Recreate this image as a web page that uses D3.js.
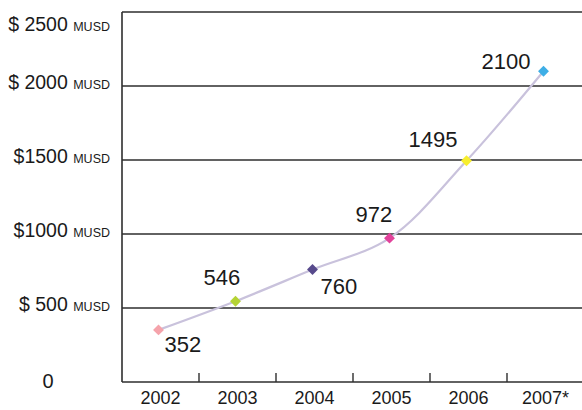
<!DOCTYPE html>
<html>
<head>
<meta charset="utf-8">
<script src="https://cdn.jsdelivr.net/npm/d3@7"></script>
<style>
  html, body { margin: 0; padding: 0; background: #fff; }
  svg { display: block; font-family: "Liberation Sans", Arial, sans-serif; }
</style>
</head>
<body>
<svg id="chart" width="582" height="410"></svg>
<script>
// Annual revenue, million USD (2007 is an estimate)
const years = ["2002", "2003", "2004", "2005", "2006", "2007*"];
const values = [352, 546, 760, 972, 1495, 2100];
const pointColors = ["#f5a3ab", "#b5d334", "#574a8c", "#e2429b", "#f7ee2e", "#3eaee6"];
const yTicks = [0, 500, 1000, 1500, 2000, 2500];
const yTickLabels = ["0", "$ 500", "$1000", "$1500", "$ 2000", "$ 2500"];
// label placement relative to each point: [dx, dy, anchor]
const labelPlacement = [
  [6, 22, "start"], [-32, -16, "start"], [8, 24, "start"],
  [-34, -16, "start"], [-58, -14, "start"], [-62, -2, "start"]
];

const svg = d3.select("#chart");
const W = 582, H = 410;
const plotLeft = 122, plotTop = 12, plotBottom = 382, plotRight = 584;

const x = d3.scaleBand().domain(years).range([plotLeft, plotRight]).padding(0);
const y = d3.scaleLinear().domain([0, 2500]).range([plotBottom, plotTop]);

// horizontal gridlines (and top frame line)
svg.append("g").selectAll("line")
  .data(yTicks.filter(d => d > 0))
  .join("line")
  .attr("x1", plotLeft).attr("x2", W)
  .attr("y1", d => y(d)).attr("y2", d => y(d))
  .attr("stroke", "#2e2e2e").attr("stroke-width", 1.6);

// x axis baseline
svg.append("line")
  .attr("x1", plotLeft).attr("x2", W).attr("y1", plotBottom).attr("y2", plotBottom)
  .attr("stroke", "#2e2e2e").attr("stroke-width", 1.6);
// ticks between categories
svg.append("g").selectAll("line")
  .data(years.slice(1))
  .join("line")
  .attr("x1", d => x(d)).attr("x2", d => x(d))
  .attr("y1", plotBottom).attr("y2", plotBottom - 9)
  .attr("stroke", "#2e2e2e").attr("stroke-width", 1.4);

// y axis line
svg.append("line")
  .attr("x1", plotLeft).attr("x2", plotLeft).attr("y1", plotTop).attr("y2", plotBottom)
  .attr("stroke", "#2e2e2e").attr("stroke-width", 1.6);

// x tick labels
svg.append("g").selectAll("text")
  .data(years)
  .join("text")
  .attr("x", d => x(d) + x.bandwidth() / 2)
  .attr("y", plotBottom + 22)
  .attr("text-anchor", "middle")
  .attr("font-size", 18)
  .attr("fill", "#1a1a1a")
  .text(d => d);

// y tick labels: "$ value" + small "MUSD"
const yl = svg.append("g");
yTicks.forEach((t, i) => {
  const yy = Math.max(y(t) + 3, 31);
  if (t === 0) {
    yl.append("text").attr("x", 48).attr("y", y(t) + 6)
      .attr("text-anchor", "middle").attr("font-size", 20).attr("fill", "#1a1a1a")
      .text(yTickLabels[i]);
    return;
  }
  const txt = yl.append("text").attr("x", 110).attr("y", yy)
    .attr("text-anchor", "end").attr("fill", "#1a1a1a");
  txt.append("tspan").attr("font-size", 19.5).text(yTickLabels[i] + " ");
  txt.append("tspan").attr("font-size", 12.5).text("MUSD");
});

// connecting line
const cx = (d, i) => x(years[i]) + x.bandwidth() / 2 - 2;
const line = d3.line()
  .x((d, i) => cx(d, i))
  .y(d => y(d))
  .curve(d3.curveCatmullRom.alpha(0.5));
svg.append("path")
  .datum(values)
  .attr("d", line)
  .attr("fill", "none")
  .attr("stroke", "#c9c2dc")
  .attr("stroke-width", 2.2);

// diamond markers
svg.append("g").selectAll("path")
  .data(values)
  .join("path")
  .attr("transform", (d, i) => `translate(${cx(d, i)},${y(d)})`)
  .attr("d", d3.symbol(d3.symbolDiamond2, 76)())
  .attr("fill", (d, i) => pointColors[i]);

// value labels
svg.append("g").selectAll("text")
  .data(values)
  .join("text")
  .attr("x", (d, i) => cx(d, i) + labelPlacement[i][0])
  .attr("y", (d, i) => y(d) + labelPlacement[i][1])
  .attr("text-anchor", (d, i) => labelPlacement[i][2])
  .attr("font-size", 22)
  .attr("fill", "#1a1a1a")
  .text(d => d);
</script>
</body>
</html>
